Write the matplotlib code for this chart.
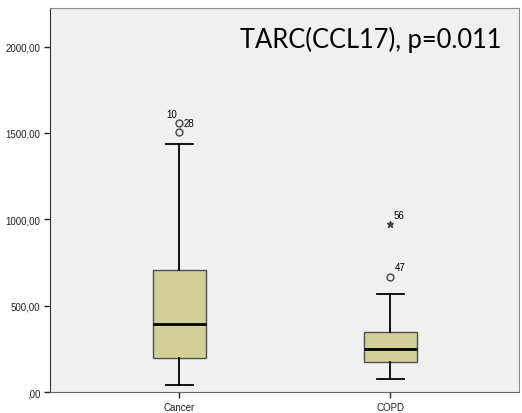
import matplotlib
matplotlib.use('Agg')
import matplotlib.pyplot as plt

# chart values
groups = ['Cancer', 'COPD']
q1 = [199, 174]
med = [396, 247]
q3 = [707, 348]
whislo = [43, 75]
whishi = [1435, 566]
outliers = [[1503, 1558], [664]]
outlier_ids = [['10', '28'], ['47']]
extremes = [[], [973]]
extreme_ids = [[], ['56']]
yticks = [0, 500, 1000, 1500, 2000]
ytick_labels = [',00', '500,00', '1000,00', '1500,00', '2000,00']
title = 'TARC(CCL17), p=0.011'

# where each case label sits relative to its mark (points)
label_offset = {'10': (-9.5, 6.3), '28': (3, 0), '47': (3.2, 7.2), '56': (2.5, 6.3)}

fig = plt.figure(figsize=(5.22, 4.14), dpi=100)
ax = fig.add_axes([0.0967, 0.0507, 0.8976, 0.9273])
ax.set_facecolor('#f0f0f0')

stats = []
for i, g in enumerate(groups):
    stats.append(dict(label=g, q1=q1[i], med=med[i], q3=q3[i],
                      whislo=whislo[i], whishi=whishi[i], fliers=outliers[i]))
pos = range(1, len(groups) + 1)
ax.bxp(stats, positions=pos, widths=0.25, patch_artist=True,
       boxprops=dict(facecolor='#d3cf98', edgecolor='#505050', linewidth=1),
       medianprops=dict(color='black', linewidth=2),
       whiskerprops=dict(color='black', linewidth=1.3),
       capprops=dict(color='black', linewidth=1.3),
       capwidths=0.125,
       flierprops=dict(marker='o', markerfacecolor='none', markeredgecolor='#333333',
                       markersize=5, markeredgewidth=0.9))

for i, p in enumerate(pos):
    for v, lab in zip(outliers[i], outlier_ids[i]):
        # case 10 label is drawn by the upper point of the pair
        yv = max(outliers[i]) if lab == '10' else v
        ax.annotate(lab, (p, yv), xytext=label_offset[lab], textcoords='offset points',
                    fontsize=7, va='center', ha='left', family='Liberation Sans')
    for v, lab in zip(extremes[i], extreme_ids[i]):
        ax.plot(p, v, marker='*', color='#444444', markersize=5, linestyle='none')
        ax.annotate(lab, (p, v), xytext=label_offset[lab], textcoords='offset points',
                    fontsize=7, va='center', ha='left', family='Liberation Sans')

ax.set_xlim(0.389, 2.609)
ax.set_ylim(0, 2223)
ax.set_yticks(yticks)
ax.set_yticklabels(ytick_labels)
ax.set_xticks(list(pos))
ax.set_xticklabels(groups)
ax.tick_params(labelsize=7, length=4, width=1, colors='#222222')
for lab in ax.get_xticklabels() + ax.get_yticklabels():
    lab.set_family('Liberation Sans')

for s in ['top', 'right']:
    ax.spines[s].set_color('#8a8a8a')
ax.spines['left'].set_color('#333333')
ax.spines['bottom'].set_color('#666666')

ax.text(0.962, 0.919, title, transform=ax.transAxes, ha='right', va='center',
        fontsize=18.4, family=['Lato', 'DejaVu Sans'])

fig.savefig('out.png', dpi=100, facecolor='white')
